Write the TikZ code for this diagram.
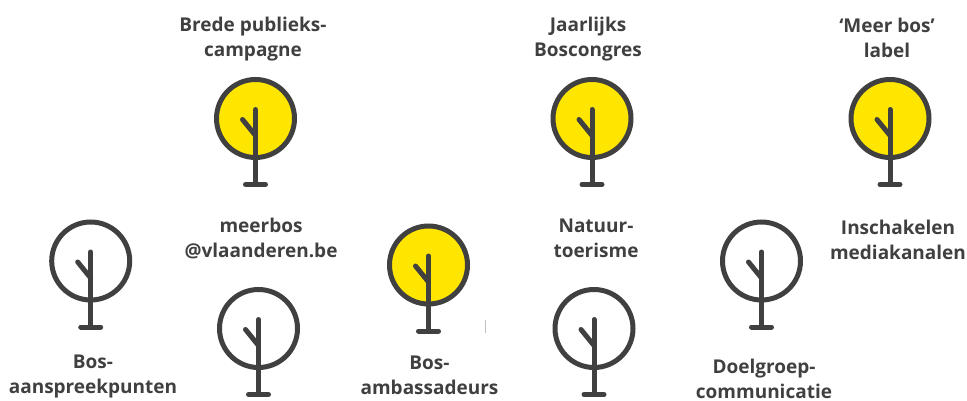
\documentclass[tikz,border=0pt]{standalone}
\usepackage{fontspec}
\setmainfont{Open Sans}
\definecolor{ink}{HTML}{404040}
\definecolor{leaf}{HTML}{FFE600}
\tikzset{
  x=1pt,y=-1pt,
  crown/.style={circle,draw=ink,line width=5pt,minimum size=78pt,inner sep=0pt},
  yellowcrown/.style={crown,fill=leaf},
  whitecrown/.style={crown,fill=white},
  limb/.style={draw=ink,line width=5pt,line cap=round},
  lbl/.style={font=\fontsize{19pt}{25pt}\selectfont\bfseries,text=ink,align=center,inner sep=0pt}
}
\newcommand{\treeat}[4]{%
  \node[#4] (#1) at (#2,#3) {};
  \coordinate (#1top) at (#2,#3-9);
  \coordinate (#1bot) at (#2,#3+66);
  \coordinate (#1bl) at (#2-10,#3+66);
  \coordinate (#1br) at (#2+10,#3+66);
  \coordinate (#1ba) at (#2-13,#3+1);
  \coordinate (#1bb) at (#2,#3+17);
  \draw[limb] (#1top) -- (#1bot);
  \draw[limb] (#1bl) -- (#1br);
  \draw[limb] (#1ba) -- (#1bb);
}
\begin{document}
\begin{tikzpicture}
\useasboundingbox (0,0) rectangle (967,401);
\treeat{t1}{255.5}{118.5}{yellowcrown}
\treeat{t2}{592}{118.5}{yellowcrown}
\treeat{t3}{890}{118.5}{yellowcrown}
\treeat{t4}{90.7}{261}{whitecrown}
\treeat{t5}{258.5}{328.5}{whitecrown}
\treeat{t6}{428.5}{265}{yellowcrown}
\treeat{t7}{594}{328.5}{whitecrown}
\treeat{t8}{761.5}{261}{whitecrown}
\draw[black!25,line width=1pt] (485,320) -- (485,333);
\node[lbl] (l1) at (253,39.5) {Brede publieks-\\campagne};
\node[lbl] (l2) at (588,39.5) {Jaarlijks\\Boscongres};
\node[lbl] (l3) at (887,38) {‘Meer bos’\\label};
\node[lbl] (l4) at (261,238) {meerbos\\@vlaanderen.be};
\node[lbl] (l5) at (596,238) {Natuur-\\toerisme};
\node[lbl] (l6) at (898,240) {Inschakelen\\mediakanalen};
\node[lbl] (l7) at (93,376) {Bos-\\aanspreekpunten};
\node[lbl] (l8) at (429.5,375) {Bos-\\ambassadeurs};
\node[lbl] (l9) at (764,378.5) {Doelgroep-\\communicatie};
\end{tikzpicture}
\end{document}
